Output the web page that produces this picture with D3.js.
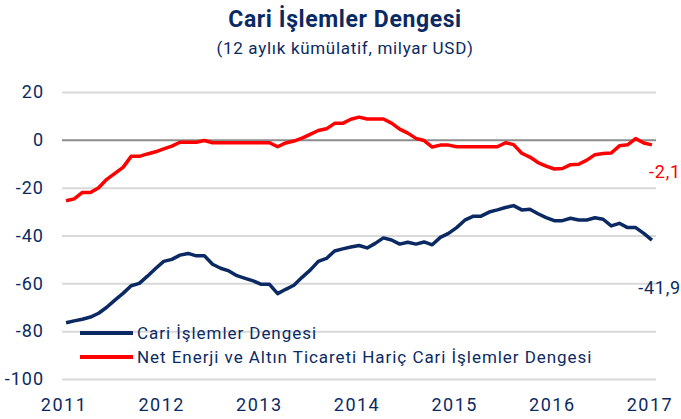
<!DOCTYPE html>
<html>
<head>
<meta charset="utf-8">
<script src="https://cdnjs.cloudflare.com/ajax/libs/d3/7.8.5/d3.min.js"></script>
<style>
  html, body { margin: 0; padding: 0; background: #fff; }
  svg { display: block; }
  text { font-family: Roboto, "Open Sans", sans-serif; }
</style>
</head>
<body>
<svg id="chart" width="681" height="419"></svg>
<script>
// ---- Data (monthly, 12-month cumulative, billion USD) ----
const yearLabels = ["2011", "2012", "2013", "2014", "2015", "2016", "2017"];
const yTicks = [20, 0, -20, -40, -60, -80, -100];

const cariIslemler = [
  -76.5, -75.7, -75.0, -74.1, -72.5, -70.0, -67.0, -64.2, -61.0, -60.0,
  -57.0, -53.8, -50.8, -50.0, -48.2, -47.5, -48.5, -48.5, -52.0, -53.7,
  -54.8, -56.8, -57.9, -59.0, -60.4, -60.4, -64.3, -62.5, -60.8, -57.5,
  -54.5, -50.8, -49.6, -46.5, -45.6, -44.8, -44.2, -45.2, -43.3, -41.0,
  -41.9, -43.6, -42.8, -43.6, -42.7, -43.9, -40.8, -39.1, -36.7, -33.6,
  -32.0, -31.9, -30.2, -29.3, -28.3, -27.5, -29.3, -29.0, -30.9, -32.5,
  -33.8, -33.8, -32.8, -33.5, -33.5, -32.6, -33.2, -36.0, -34.9, -36.7,
  -36.7, -39.1, -41.9
];
const haricCari = [
  -25.5, -24.7, -22.0, -22.0, -20.0, -16.5, -14.0, -11.5, -6.9, -6.9,
  -5.9, -5.0, -3.8, -2.6, -1.0, -1.0, -1.0, -0.3, -1.2, -1.2,
  -1.2, -1.2, -1.2, -1.2, -1.2, -1.2, -2.9, -1.3, -0.5, 0.7,
  2.3, 3.9, 4.6, 6.9, 6.9, 8.6, 9.5, 8.7, 8.7, 8.7,
  7.0, 4.5, 2.8, 0.6, -0.3, -3.0, -2.2, -2.2, -2.9, -2.9,
  -2.9, -2.9, -2.9, -2.9, -1.2, -2.0, -5.6, -7.2, -9.5, -11.0,
  -12.2, -12.0, -10.4, -10.2, -8.5, -6.2, -5.7, -5.5, -2.5, -2.1,
  0.5, -1.3, -2.1
];
const seriesNames = ["Cari İşlemler Dengesi", "Net Enerji ve Altın Ticareti Hariç Cari İşlemler Dengesi"];
const endLabels = ["-41,9", "-2,1"];
const colors = ["#0B2A63", "#FF0000"];

// ---- Layout ----
const svg = d3.select("#chart");
const plot = { left: 62, right: 656, top: 92, bottom: 379 };
const n = cariIslemler.length;

const x = d3.scaleBand()
  .domain(d3.range(n))
  .range([plot.left, plot.right]);
const xc = i => x(i) + x.bandwidth() / 2;

const y = d3.scaleLinear()
  .domain([-100, 20])
  .range([plot.bottom, plot.top]);

// Title
svg.append("text")
  .attr("x", 345).attr("y", 27)
  .attr("text-anchor", "middle")
  .attr("font-size", 23).attr("font-weight", "bold")
  .attr("letter-spacing", 0.6)
  .attr("fill", "#0B2A63")
  .text("Cari İşlemler Dengesi");
svg.append("text")
  .attr("x", 345).attr("y", 54)
  .attr("text-anchor", "middle")
  .attr("font-size", 17)
  .attr("letter-spacing", 0.7)
  .attr("fill", "#0B2A63")
  .text("(12 aylık kümülatif, milyar USD)");

// Gridlines
const yAxis = d3.axisLeft(y)
  .tickValues(yTicks)
  .tickSize(-(plot.right - plot.left))
  .tickFormat(d => d);
const gy = svg.append("g")
  .attr("transform", `translate(${plot.left},0)`)
  .call(yAxis);
gy.select(".domain").remove();
gy.selectAll(".tick line")
  .attr("stroke", d => d === 0 ? "#8C8C8C" : "#D9D9D9")
  .attr("stroke-width", 2);
gy.selectAll(".tick text")
  .attr("x", -18)
  .attr("fill", "#0B2A63")
  .attr("font-size", 18)
  .attr("letter-spacing", 1)
  .style("font-family", "Roboto, sans-serif");

// X axis labels every 12 months
const xAxis = d3.axisBottom(x)
  .tickValues(d3.range(0, n, 12))
  .tickSize(0)
  .tickFormat((d, i) => yearLabels[i]);
const gx = svg.append("g")
  .attr("transform", `translate(0,${plot.bottom + 16})`)
  .call(xAxis);
gx.select(".domain").remove();
gx.selectAll(".tick text")
  .attr("fill", "#0B2A63")
  .attr("font-size", 18)
  .attr("letter-spacing", 1.5)
  .attr("dx", -2)
  .style("font-family", "Roboto, sans-serif");

// Lines
const line = d3.line().x((d, i) => xc(i)).y(d => y(d));
[cariIslemler, haricCari].forEach((s, k) => {
  svg.append("path")
    .datum(s)
    .attr("fill", "none")
    .attr("stroke", colors[k])
    .attr("stroke-width", 3.5)
    .attr("stroke-linejoin", "round")
    .attr("d", line);
});

// End labels
svg.append("text")
  .attr("x", 681).attr("y", y(cariIslemler[n - 1]) + 54)
  .attr("text-anchor", "end")
  .attr("font-size", 18)
  .attr("letter-spacing", 0.8)
  .attr("fill", colors[0])
  .text(endLabels[0]);
svg.append("text")
  .attr("x", 681).attr("y", y(haricCari[n - 1]) + 33)
  .attr("text-anchor", "end")
  .attr("font-size", 18)
  .attr("letter-spacing", 0.8)
  .attr("fill", colors[1])
  .text(endLabels[1]);

// Legend
const legend = svg.append("g");
seriesNames.forEach((name, k) => {
  const ly = 333 + k * 24;
  legend.append("line")
    .attr("x1", 80).attr("x2", 133)
    .attr("y1", ly).attr("y2", ly)
    .attr("stroke", colors[k]).attr("stroke-width", 4);
  legend.append("text")
    .attr("x", 137).attr("y", ly + 6)
    .attr("font-size", 17)
    .attr("letter-spacing", 0.95)
    .attr("fill", "#0B2A63")
    .text(name);
});
</script>
</body>
</html>
